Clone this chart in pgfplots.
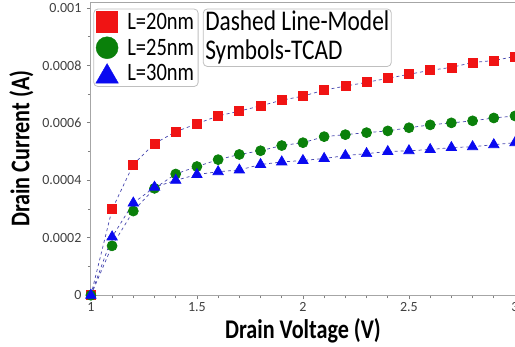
\documentclass[border=0pt]{standalone}
\usepackage{pgfplots}
\pgfplotsset{compat=1.18}
\usepackage{fontspec}
\setmainfont{Carlito}
\newfontfamily\nar{Carlito}[FakeStretch=0.82]
\definecolor{mred}{RGB}{240,20,20}
\definecolor{mgreen}{RGB}{10,128,10}
\definecolor{mblue}{RGB}{10,10,240}
\definecolor{lin}{RGB}{70,70,175}
\begin{document}
\begin{tikzpicture}[trim axis right]
\begin{axis}[
  scale only axis, width=424pt, height=293pt,
  xmin=1, xmax=3, ymin=0, ymax=0.00102,
  xtick={1,1.5,2,2.5,3}, xticklabels={1,1.5,2,2.5,3},
  ytick={0,0.0002,0.0004,0.0006,0.0008,0.001},
  yticklabels={0,0.0002,0.0004,0.0006,0.0008,0.001},
  scaled y ticks=false, scaled x ticks=false,
  minor x tick num=4, minor y tick num=1,
  tick pos=left, tick align=outside,
  major tick length=4pt, minor tick length=3pt,
  every tick/.style={gray, line width=0.8pt},
  axis line style={gray!70, line width=0.8pt},
  tick label style={font=\fontsize{14}{16}\selectfont, text=black!75},
  yticklabel style={xshift=-2pt},
  xlabel={Drain Voltage (V)}, ylabel={Drain Current (A)},
  label style={font=\nar\bfseries\fontsize{27}{30}\selectfont},
  ylabel shift=2pt,
  legend style={at={(rel axis cs:0.006,0.978)}, anchor=north west,
    draw=gray!50, line width=0.8pt, rounded corners=4pt,
    font=\nar\fontsize{25}{27}\selectfont, row sep=4pt, column sep=7pt,
    inner sep=2pt, cells={anchor=west}},
  legend image code/.code={
     \draw[#1, sharp corners] plot coordinates {(14pt,0pt)};},
]
\addlegendimage{only marks, mark=square*, mark size=10.5pt,
  mark options={solid, draw=mred, fill=mred, line width=0.4pt}}
\addlegendentry{L=20nm}
\addlegendimage{only marks, mark=*, mark size=11pt,
  mark options={solid, draw=mgreen, fill=mgreen, line width=0.4pt}}
\addlegendentry{L=25nm}
\addlegendimage{only marks, mark=triangle*, mark size=13pt,
  mark options={solid, draw=mblue, fill=mblue, line width=0.4pt, yshift=-3pt}}
\addlegendentry{L=30nm}

\addplot[forget plot, lin, dashed, line width=0.7pt, mark=square*, mark size=4.5pt,
  mark options={solid, draw=mred, fill=mred}] coordinates {
(1.0,0) (1.1,0.000299) (1.2,0.000455) (1.3,0.000528) (1.4,0.000569) (1.5,0.000597)
(1.6,0.000624) (1.7,0.000641) (1.8,0.000659) (1.9,0.000679) (2.0,0.000693)
(2.1,0.000714) (2.2,0.000728) (2.3,0.000741) (2.4,0.000755) (2.5,0.000769)
(2.6,0.000783) (2.7,0.000793) (2.8,0.000810) (2.9,0.000817) (3.0,0.000831)};
\addplot[forget plot, lin, dashed, line width=0.7pt, mark=*, mark size=5pt,
  mark options={solid, draw=mgreen, fill=mgreen}] coordinates {
(1.0,0) (1.1,0.000172) (1.2,0.000293) (1.3,0.000372) (1.4,0.000422) (1.5,0.000448)
(1.6,0.000472) (1.7,0.000490) (1.8,0.000503) (1.9,0.000521) (2.0,0.000531)
(2.1,0.000552) (2.2,0.000559) (2.3,0.000566) (2.4,0.000572) (2.5,0.000583)
(2.6,0.000593) (2.7,0.000600) (2.8,0.000607) (2.9,0.000617) (3.0,0.000624)};
\addplot[forget plot, lin, dashed, line width=0.7pt, mark=triangle*, mark size=6pt,
  mark options={solid, draw=mblue, fill=mblue}] coordinates {
(1.0,0) (1.1,0.000203) (1.2,0.000321) (1.3,0.000376) (1.4,0.000400) (1.5,0.000420)
(1.6,0.000430) (1.7,0.000436) (1.8,0.000455) (1.9,0.000464) (2.0,0.000469)
(2.1,0.000476) (2.2,0.000486) (2.3,0.000493) (2.4,0.000500) (2.5,0.000503)
(2.6,0.000507) (2.7,0.000514) (2.8,0.000517) (2.9,0.000524) (3.0,0.000531)};

\node[anchor=north west, draw=gray!50, rounded corners=4pt, line width=0.8pt,
  align=left, font=\nar\fontsize{28.5}{29}\selectfont, inner sep=2pt]
  at (rel axis cs:0.264,0.978) {Dashed Line-Model\\Symbols-TCAD};
\end{axis}
\path (current bounding box.west) ++(-6pt,0pt);
\end{tikzpicture}
\end{document}
